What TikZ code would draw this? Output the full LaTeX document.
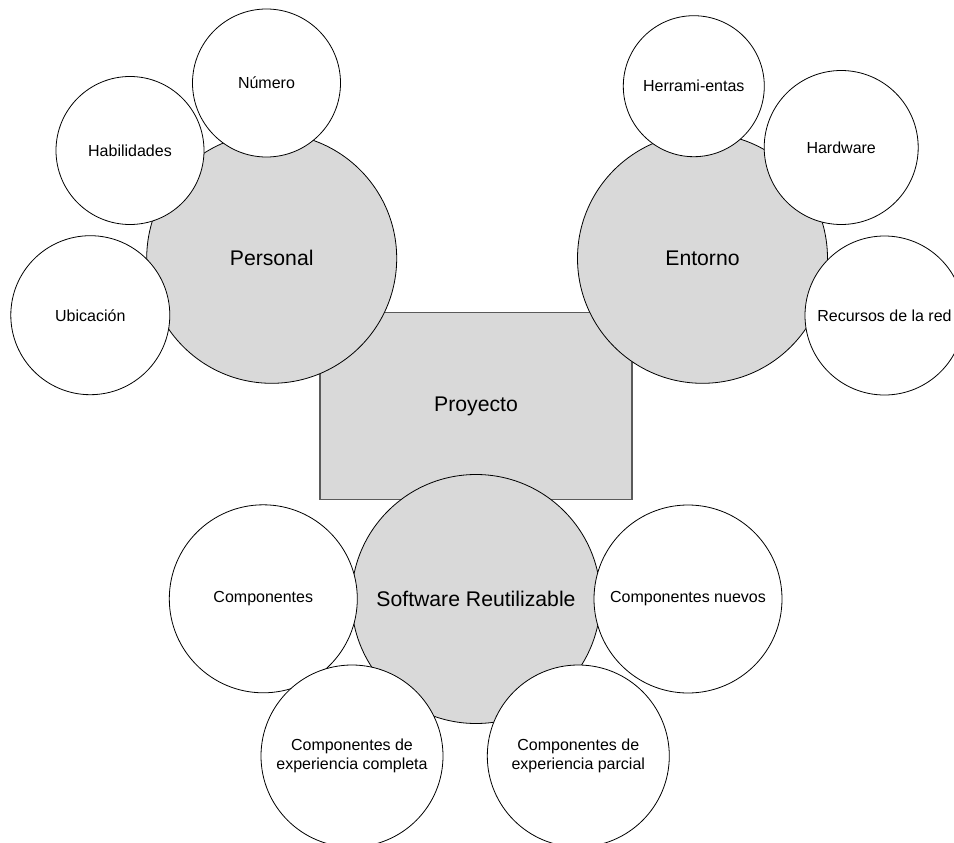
\documentclass[tikz,border=0pt]{standalone}
\usepackage{fontspec}
\setmainfont{Liberation Sans}
\definecolor{shade}{HTML}{D9D9D9}
\definecolor{boxline}{HTML}{5A5A5A}
\begin{document}
\begin{tikzpicture}[x=1pt,y=-1pt,
  main/.style={circle,draw=black,line width=0.8pt,fill=shade,inner sep=0pt,
    font=\fontsize{21.2}{24}\selectfont},
  sub/.style={circle,draw=black,line width=0.8pt,fill=white,inner sep=0pt,
    align=center,font=\fontsize{16}{18.4}\selectfont},
  core/.style={rectangle,draw=boxline,line width=1.3pt,fill=shade,inner sep=0pt,
    font=\fontsize{21.2}{24}\selectfont}]
\useasboundingbox (0,0) rectangle (954,843);
\clip (0,0) rectangle (954,843);

% central project box
\node[core,minimum width=312pt,minimum height=187pt] (proyecto) at (476,406) {Proyecto};

% three main groups
\node[main,minimum size=250pt] (personal) at (271.7,258.3) {Personal};
\node[main,minimum size=250pt] (entorno) at (702.5,258.3) {Entorno};
\node[main,minimum size=249pt] (software) at (476,599) {Software Reutilizable};

% personal aspects
\node[sub,minimum size=148pt] (numero) at (266.5,83) {Número};
\node[sub,minimum size=148pt] (habilidades) at (130,150.5) {Habilidades};
\node[sub,minimum size=159pt] (ubicacion) at (90.3,315.2) {Ubicación};

% environment aspects
\node[sub,minimum size=141pt] (herramientas) at (693.8,86.2) {Herrami-entas};
\node[sub,minimum size=154pt] (hardware) at (841.2,147.5) {Hardware};
\node[sub,minimum size=159pt] (recursos) at (884.5,315.5) {Recursos de la red};

% reusable software kinds
\node[sub,minimum size=188pt] (componentes) at (263.3,598.8) {Componentes};
\node[sub,minimum size=188pt] (nuevos) at (688,599) {Componentes nuevos};
\node[sub,minimum size=182pt] (completa) at (352,756) {Componentes de\\experiencia completa};
\node[sub,minimum size=182pt] (parcial) at (578.3,756) {Componentes de\\experiencia parcial};
\end{tikzpicture}
\end{document}
